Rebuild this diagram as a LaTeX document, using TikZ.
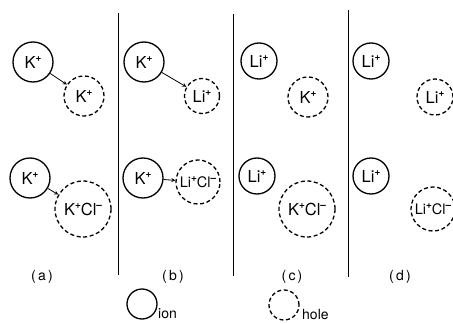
\documentclass[tikz,border=0pt]{standalone}
\usepackage{fontspec}
\setmainfont{TeX Gyre Heros}
\newfontfamily\labelfont[LetterSpace=16]{TeX Gyre Heros}
\usetikzlibrary{positioning}
\newcommand{\chg}[1]{\raisebox{0.42em}{\fontsize{10}{10}\selectfont\bfseries #1}}
\newcommand{\ionp}[1]{#1\chg{+}}
\newcommand{\pairkcl}[1]{#1\chg{+}Cl\chg{--}}

\begin{document}
\begin{tikzpicture}[x=1pt,y=-1pt,>=stealth,
    ion/.style={circle,draw,line width=1.3pt,inner sep=0pt,font=\fontsize{16.5}{16.5}\selectfont},
    hole/.style={ion,dash pattern=on 4pt off 2.6pt},
    smallpair/.style={font=\fontsize{14.5}{14.5}\selectfont},
    divider/.style={line width=0.9pt},
    caption/.style={font=\labelfont\fontsize{14}{14}\selectfont},
    legend/.style={font=\fontsize{14}{14}\selectfont,inner sep=0pt,anchor=base west}]
    \useasboundingbox (0,0) rectangle (453,324);
    % dividing lines
    \draw[divider] (118,13) -- (118,275);
    \draw[divider] (233,14) -- (233,276);
    \draw[divider] (348,10) -- (348,277);
    % (a)
    \node[ion,minimum size=40pt] (ka1) at (33,62) {\ionp{K}};
    \node[hole,minimum size=40pt] (ha1) at (84,96) {\ionp{K}};
    \node[ion,minimum size=40pt] (ka2) at (30,178) {\ionp{K}};
    \node[hole,minimum size=56pt] (ha2) at (83,209) {\pairkcl{K}};
    \draw[->,thick] (ka1) -- (ha1);
    \draw[->,thick] (ka2) -- (ha2);
    % (b)
    \node[ion,minimum size=40pt] (kb1) at (144,62) {\ionp{K}};
    \node[hole,minimum size=35pt] (hb1) at (202,96) {\ionp{Li}};
    \node[ion,minimum size=40pt] (kb2) at (143,178) {\ionp{K}};
    \node[hole,smallpair,minimum size=44pt] (hb2) at (198,182) {\pairkcl{Li}};
    \draw[->,thick] (kb1) -- (hb1);
    \draw[->,thick] (kb2) -- (hb2);
    % (c)
    \node[ion,minimum size=36pt] (lc1) at (259,61) {\ionp{Li}};
    \node[hole,minimum size=40pt] (hc1) at (308,97) {\ionp{K}};
    \node[ion,minimum size=36pt] (lc2) at (257,176) {\ionp{Li}};
    \node[hole,minimum size=56pt] (hc2) at (307,209) {\pairkcl{K}};
    % (d)
    \node[ion,minimum size=36pt] (ld1) at (371,61) {\ionp{Li}};
    \node[hole,minimum size=36pt] (hd1) at (435,97) {\ionp{Li}};
    \node[ion,minimum size=36pt] (ld2) at (371,176) {\ionp{Li}};
    \node[hole,smallpair,minimum size=44pt] (hd2) at (433,209) {\pairkcl{Li}};
    % captions
    \node[caption] (capa) at (42,277) {(a)};
    \node[caption] (capb) at (173,277) {(b)};
    \node[caption] (capc) at (292,277) {(c)};
    \node[caption] (capd) at (400,277) {(d)};
    % legend
    \node[ion,minimum size=30pt] (ionkey) at (142,304) {};
    \node[legend] (iontext) at (158,318) {ion};
    \node[hole,minimum size=30pt] (holekey) at (284,305) {};
    \node[legend] (holetext) at (302,319) {hole};
\end{tikzpicture}
\end{document}
